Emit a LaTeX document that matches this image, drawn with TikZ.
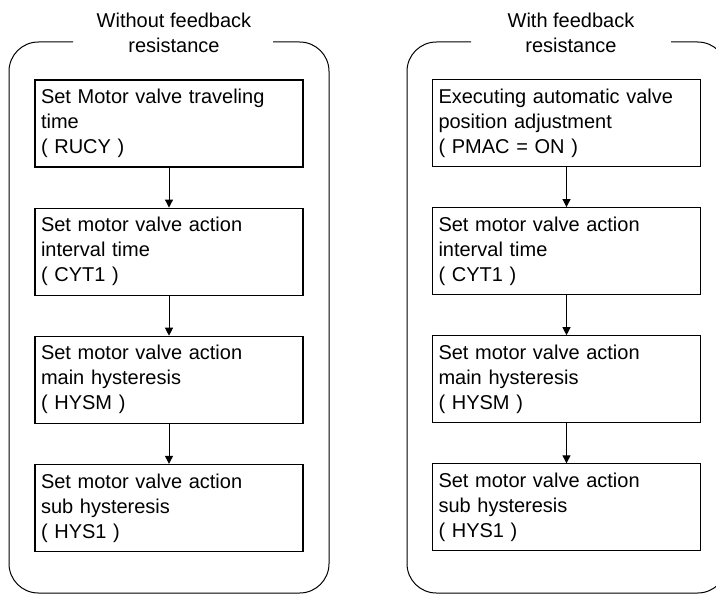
\documentclass[tikz,border=0pt]{standalone}
\usepackage{fontspec}
\setmainfont{Liberation Sans}
\usetikzlibrary{arrows.meta,positioning}
\tikzset{
  fb/.style={font=\fontsize{15}{18.75}\selectfont, text=black},
  fbbox/.style={draw=black, line width=0.85pt, align=left, text width=192pt,
    inner sep=4.5pt, minimum height=65.25pt},
  fbarr/.style={-{Triangle[length=6pt,width=6pt]}, line width=0.75pt},
  fbframe/.style={draw=black, line width=0.75pt, rounded corners=22pt},
  fbtitle/.style={align=center},
}

\begin{document}
\begin{tikzpicture}[fb, x=0.75pt, y=-0.75pt, node distance=30pt]
  \useasboundingbox (0,0) rectangle (716,595);
  % without feedback resistance
  \node[fbtitle] (ltitle) at (174,33) {Without feedback\\resistance};
  \draw[fbframe] (73,42) -- (9,42) -- (9,593) -- (329,593) -- (329,42) -- (273,42);
  \node[fbbox] (l1) at (169,123.5) {Set Motor valve traveling\\time\\( RUCY )};
  \node[fbbox, below=of l1] (l2) {Set motor valve action\\interval time\\( CYT1 )};
  \node[fbbox, below=of l2] (l3) {Set motor valve action\\main hysteresis\\( HYSM )};
  \node[fbbox, below=of l3] (l4) {Set motor valve action\\sub hysteresis\\( HYS1 )};
  \draw[fbarr] (l1) -- (l2);
  \draw[fbarr] (l2) -- (l3);
  \draw[fbarr] (l3) -- (l4);
  % with feedback resistance
  \node[fbtitle] (rtitle) at (571,33) {With feedback\\resistance};
  \draw[fbframe] (471,42) -- (407,42) -- (407,593) -- (727,593) -- (727,42) -- (671,42);
  \node[fbbox] (r1) at (566.5,123) {Executing automatic valve\\position adjustment\\( PMAC = ON )};
  \node[fbbox, below=of r1] (r2) {Set motor valve action\\interval time\\( CYT1 )};
  \node[fbbox, below=of r2] (r3) {Set motor valve action\\main hysteresis\\( HYSM )};
  \node[fbbox, below=of r3] (r4) {Set motor valve action\\sub hysteresis\\( HYS1 )};
  \draw[fbarr] (r1) -- (r2);
  \draw[fbarr] (r2) -- (r3);
  \draw[fbarr] (r3) -- (r4);
\end{tikzpicture}
\end{document}
